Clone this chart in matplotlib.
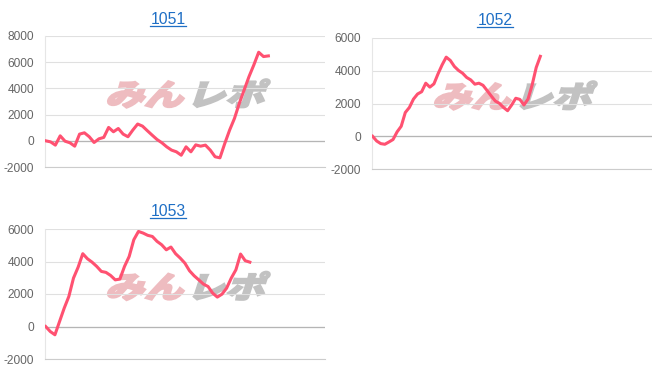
import matplotlib
matplotlib.use("Agg")
import matplotlib.pyplot as plt
import matplotlib.transforms as mtransforms
from matplotlib.textpath import TextPath
from matplotlib.patches import PathPatch
from matplotlib.font_manager import FontProperties
from matplotlib.lines import Line2D

plt.rcParams["axes.unicode_minus"] = False

# data
titles = ["1051", "1052", "1053"]
v1051 = [0, -80, -330, 380, -30, -150, -410, 510, 610, 310, -130, 150, 260, 1020, 690,
         940, 510, 310, 820, 1280, 1120, 770, 430, 100, -150, -460, -710, -840, -1100,
         -460, -840, -310, -410, -330, -710, -1220, -1300, -200, 820, 1710, 2860, 3880,
         4900, 5790, 6760, 6430, 6480]
v1052 = [0, -290, -450, -490, -350, -200, 270, 610, 1450, 1760, 2270, 2580, 2720, 3240,
         3000, 3200, 3810, 4360, 4830, 4630, 4260, 4020, 3850, 3590, 3440, 3180, 3240,
         3110, 2790, 2460, 2150, 2010, 1760, 1560, 1910, 2320, 2250, 1910, 2270, 3130,
         4200, 4880]
v1053 = [0, -310, -510, 310, 1130, 1850, 2980, 3650, 4480, 4170, 3960, 3700, 3390, 3330,
         3140, 2870, 2920, 3700, 4310, 5340, 5850, 5750, 5610, 5540, 5240, 5030, 4720,
         4890, 4480, 4210, 3900, 3430, 3120, 2870, 2610, 2460, 2050, 1810, 1990, 2360,
         2980, 3490, 4460, 4050, 3960]
series = [v1051, v1052, v1053]
yticks = [[-2000, 0, 2000, 4000, 6000, 8000],
          [-2000, 0, 2000, 4000, 6000],
          [-2000, 0, 2000, 4000, 6000]]
xmax = [57.7, 68.3, 60.2]

W, H = 652, 382
fig = plt.figure(figsize=(W / 100, H / 100), dpi=100)

# axes boxes in pixels: left, top, width, height
boxes = [(45, 36, 280, 131), (372, 38, 280, 131), (45, 229, 280, 130)]
title_pos = [(168, 23.5), (495, 25), (168, 215.5)]

line_col = "#ff5171"
link_col = "#1f6fc5"
fp = FontProperties(family="Noto Sans CJK JP", weight="heavy")
p_min = TextPath((0, 0), "みん", size=1, prop=fp)
p_repo = TextPath((0, 0), "レポ", size=1, prop=fp)

for i in range(3):
    l, t, w, h = boxes[i]
    ax = fig.add_axes([l / W, (H - t - h) / H, w / W, h / H])
    vals = series[i]
    ax.plot(range(len(vals)), vals, color=line_col, lw=2.2, zorder=3,
            solid_joinstyle="round")
    ax.set_xlim(-0.14, xmax[i])
    ax.set_ylim(yticks[i][0], yticks[i][-1])
    ax.set_yticks(yticks[i])
    ax.set_xticks([])
    ax.tick_params(axis="y", length=0, pad=8, labelsize=8.6, labelcolor="#666666")
    for lab in ax.get_yticklabels():
        lab.set_fontfamily("Liberation Sans")
    ax.grid(axis="y", color="#e0e0e0", lw=0.8)
    ax.axhline(0, color="#b5b5b5", lw=0.9, zorder=2)
    for s in ["top", "right"]:
        ax.spines[s].set_visible(False)
    ax.spines["bottom"].set_color("#cccccc")
    ax.spines["left"].set_color("#e6e6e6")
    ax.set_facecolor("none")

    # watermark logo
    for path, dx, col in [(p_min, 0.0, "#eebcc0"), (p_repo, 0.29, "#c2c2c2")]:
        tr = (mtransforms.Affine2D().skew_deg(14, 0).scale(39, 30)
              + mtransforms.ScaledTranslation(0.214 + dx, 0.47, ax.transAxes))
        patch = PathPatch(path, transform=tr, facecolor=col, edgecolor=col,
                          lw=1.4, joinstyle="miter", zorder=1, clip_on=False)
        ax.add_artist(patch)

fig.canvas.draw()
renderer = fig.canvas.get_renderer()
for i in range(3):
    x, y = title_pos[i]
    txt = fig.text(x / W, (H - y) / H, titles[i], ha="center", va="baseline",
                   fontsize=11.3, color=link_col, family="Liberation Sans")
    bb = txt.get_window_extent(renderer=renderer)
    uy = (H - y - 2) / H
    fig.add_artist(Line2D([bb.x0 / W, bb.x1 / W], [uy, uy], color=link_col, lw=0.9))

fig.savefig("out.png", dpi=100)
